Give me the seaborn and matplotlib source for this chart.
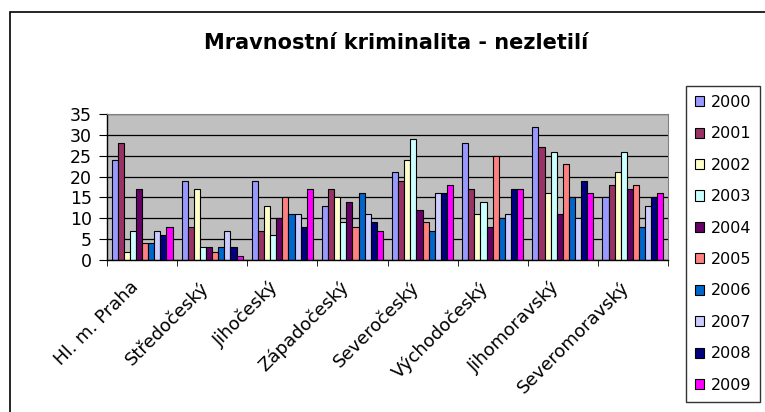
import matplotlib
matplotlib.use("Agg")
import matplotlib.pyplot as plt
import matplotlib.transforms as mtrans
from matplotlib.patches import Rectangle
import pandas as pd
import seaborn as sns

# data
regions = ["Hl. m. Praha", "Středočeský", "Jihočeský", "Západočeský",
           "Severočeský", "Východočeský", "Jihomoravský", "Severomoravský"]
years = ["2000", "2001", "2002", "2003", "2004",
         "2005", "2006", "2007", "2008", "2009"]
# one list per region, values for 2000..2009
praha = [24, 28, 2, 7, 17, 4, 4, 7, 6, 8]
stredocesky = [19, 8, 17, 3, 3, 2, 3, 7, 3, 1]
jihocesky = [19, 7, 13, 6, 10, 15, 11, 11, 8, 17]
zapadocesky = [13, 17, 15, 9, 14, 8, 16, 11, 9, 7]
severocesky = [21, 19, 24, 29, 12, 9, 7, 16, 16, 18]
vychodocesky = [28, 17, 11, 14, 8, 25, 10, 11, 17, 17]
jihomoravsky = [32, 27, 16, 26, 11, 23, 15, 10, 19, 16]
severomoravsky = [15, 18, 21, 26, 17, 18, 8, 13, 15, 16]
colors = ["#9999FF", "#993366", "#FFFFCC", "#CCFFFF", "#660066",
          "#FF8080", "#0066CC", "#CCCCFF", "#000080", "#FF00FF"]

all_vals = [praha, stredocesky, jihocesky, zapadocesky,
            severocesky, vychodocesky, jihomoravsky, severomoravsky]
rows = []
for reg, vals in zip(regions, all_vals):
    for yr, v in zip(years, vals):
        rows.append({"kraj": reg, "rok": yr, "pocet": v})
df = pd.DataFrame(rows)

sns.set_style("white")
# the reference text is wide, DejaVu Sans is closer than Arial
plt.rcParams["font.family"] = ["DejaVu Sans"]
plt.rcParams["text.color"] = "black"
plt.rcParams["xtick.color"] = "black"
plt.rcParams["ytick.color"] = "black"

fig = plt.figure(figsize=(7.65, 4.12), dpi=100)
ax = fig.add_axes([107/765, 1 - 260/412, (668 - 107)/765, (260 - 114)/412])

sns.barplot(data=df, x="kraj", y="pocet", hue="rok", order=regions,
            hue_order=years, palette=colors, width=0.87, edgecolor="black",
            linewidth=0.8, ax=ax, legend=True, saturation=1)

ax.set_facecolor("#C0C0C0")
ax.set_ylim(0, 35)
ax.set_xlim(-0.5, len(regions) - 0.5)
ax.set_yticks(range(0, 36, 5))
ax.yaxis.grid(True, color="black", linewidth=0.9)
ax.set_axisbelow(True)
ax.set_xlabel("")
ax.set_ylabel("")

for side in ["top", "right"]:
    ax.spines[side].set_color("#808080")
for side in ["left", "bottom"]:
    ax.spines[side].set_color("black")
    ax.spines[side].set_linewidth(1)

# ticks between groups, labels under groups
ax.set_xticks(range(len(regions)))
ax.set_xticklabels(regions, rotation=45, ha="right", rotation_mode="anchor",
                   fontsize=13)
ax.set_xticks([i - 0.5 for i in range(len(regions) + 1)], minor=True)
ax.tick_params(axis="x", which="major", length=0, pad=13)
ax.tick_params(axis="x", which="minor", length=4.5, direction="out",
               color="black", bottom=True)
ax.tick_params(axis="y", length=6, direction="out", color="black",
               labelsize=12.5, left=True, pad=5)
shift = mtrans.ScaledTranslation(-13/100, 0, fig.dpi_scale_trans)
for lbl in ax.get_xticklabels():
    lbl.set_transform(lbl.get_transform() + shift)

handles, labels = ax.get_legend_handles_labels()
ax.get_legend().remove()
leg = fig.legend(handles, labels, loc="upper left",
                 bbox_to_anchor=(686/765, 1 - 86/412), frameon=True,
                 fancybox=False, fontsize=11.5, labelspacing=1.03,
                 handlelength=0.6, handleheight=0.6, handletextpad=0.4,
                 borderpad=0.55, borderaxespad=0)
leg.get_frame().set_edgecolor("black")
leg.get_frame().set_linewidth(1)

fig.text(396/765, 1 - 43/412, "Mravnostní kriminalita - nezletilí",
         ha="center", va="center", fontsize=15, fontweight="bold")

# outer chart border
fig.patches.append(Rectangle((10/765, -0.1), 1.2, 1 - 12/412 + 0.1,
                             transform=fig.transFigure, fill=False,
                             edgecolor="black", linewidth=1.2))

fig.savefig("out.png", dpi=100)
